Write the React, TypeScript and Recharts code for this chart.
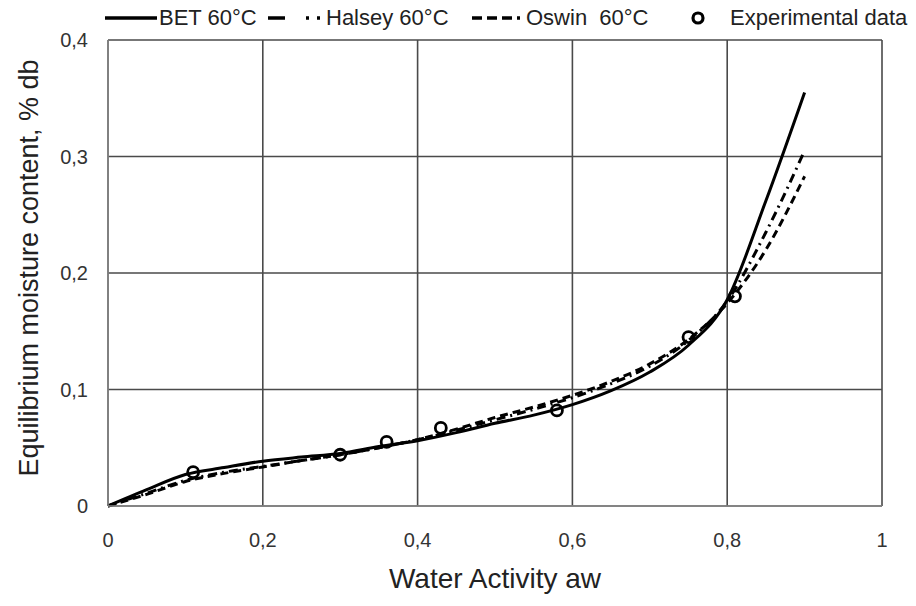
import React from "react"
import { CartesianGrid, ComposedChart, Label, Line, Scatter, XAxis, YAxis } from "recharts"

const aw = [0, 0.05, 0.1, 0.15, 0.2, 0.25, 0.3, 0.35, 0.4, 0.45, 0.5, 0.55, 0.6, 0.65, 0.7, 0.75, 0.8, 0.85, 0.9]
const bet = [0, 0.014, 0.027, 0.033, 0.0385, 0.042, 0.045, 0.051, 0.056, 0.063, 0.071, 0.078, 0.087, 0.099, 0.115, 0.138, 0.177, 0.262, 0.355]
const halsey = [0, 0.011, 0.022, 0.029, 0.034, 0.039, 0.044, 0.05, 0.057, 0.065, 0.074, 0.083, 0.093, 0.105, 0.12, 0.142, 0.176, 0.235, 0.305]
const oswin = [0, 0.01, 0.021, 0.028, 0.0335, 0.039, 0.044, 0.05, 0.057, 0.066, 0.076, 0.085, 0.095, 0.107, 0.122, 0.143, 0.174, 0.22, 0.283]

const expAw = [0.11, 0.3, 0.36, 0.43, 0.58, 0.75, 0.81]
const expMoisture = [0.029, 0.044, 0.055, 0.067, 0.082, 0.145, 0.18]

const xTicks = [0, 0.2, 0.4, 0.6, 0.8, 1]
const yTicks = [0, 0.1, 0.2, 0.3, 0.4]

const curves = aw.map((x, i) => ({ x, bet: bet[i], halsey: halsey[i], oswin: oswin[i] }))
const experimental = expAw.map((x, i) => ({ x, y: expMoisture[i] }))

const FONT = "'Liberation Sans', Arial, sans-serif"
const fmt = (v: number) => String(v).replace(".", ",")

const OpenCircle = (props: any) => (
  <circle cx={props.cx} cy={props.cy} r={5.5} fill="none" stroke="#000" strokeWidth={2.8} />
)

function LegendBar() {
  const item = { display: "flex", alignItems: "center", position: "absolute" as const, top: 5 }
  const txt = { fontSize: 22, color: "#222", whiteSpace: "pre" as const }
  return (
    <div style={{ fontFamily: FONT }}>
      <div style={{ ...item, left: 105 }}>
        <svg width={54} height={20}><line x1={0} y1={10} x2={52} y2={10} stroke="#000" strokeWidth={3.5} /></svg>
        <span style={txt}>BET 60°C</span>
      </div>
      <div style={{ ...item, left: 268 }}>
        <svg width={58} height={20}><line x1={0} y1={10} x2={56} y2={10} stroke="#000" strokeWidth={3.5} strokeDasharray="17 21 3 8 3 8" /></svg>
        <span style={txt}>Halsey 60°C</span>
      </div>
      <div style={{ ...item, left: 472 }}>
        <svg width={54} height={20}><line x1={0} y1={10} x2={48} y2={10} stroke="#000" strokeWidth={3.5} strokeDasharray="10 5" /></svg>
        <span style={txt}>Oswin  60°C</span>
      </div>
      <div style={{ ...item, left: 690 }}>
        <svg width={40} height={20}><circle cx={8} cy={10} r={5} fill="none" stroke="#000" strokeWidth={3.2} /></svg>
        <span style={txt}>Experimental data</span>
      </div>
    </div>
  )
}

const YTitle = () => (
  <text
    transform="translate(38,268) rotate(-90)"
    textAnchor="middle"
    fontSize={27}
    fill="#222"
    fontFamily={FONT}
  >
    Equilibrium moisture content, % db
  </text>
)

export default function App() {
  return (
    <div style={{ position: "absolute", left: 0, top: 0, width: 916, height: 606, background: "#fff" }}>
      <LegendBar />
      <ComposedChart
        width={916}
        height={606}
        data={curves}
        margin={{ top: 40, right: 34, left: 0, bottom: 0 }}
        style={{ fontFamily: FONT }}
      >
        <CartesianGrid stroke="#4a4a4a" strokeWidth={1.6} />
        <XAxis
          type="number"
          dataKey="x"
          domain={[0, 1]}
          ticks={xTicks}
          tickFormatter={fmt}
          height={100}
          tickLine={false}
          tickMargin={21}
          axisLine={{ stroke: "#888", strokeWidth: 1.5 }}
          tick={{ fill: "#333", fontSize: 20 }}
        >
          <Label value="Water Activity aw" position="insideBottom" offset={18} style={{ fontSize: 28, fill: "#222" }} />
        </XAxis>
        <YAxis
          type="number"
          domain={[0, 0.4]}
          ticks={yTicks}
          tickFormatter={fmt}
          width={108}
          tickLine={false}
          tickMargin={14}
          axisLine={{ stroke: "#888", strokeWidth: 1.5 }}
          tick={{ fill: "#333", fontSize: 20 }}
        >
          <Label content={<YTitle />} />
        </YAxis>
        <Line type="monotone" dataKey="bet" stroke="#000" strokeWidth={3} dot={false} isAnimationActive={false} />
        <Line type="monotone" dataKey="halsey" stroke="#000" strokeWidth={3} strokeDasharray="9 5 2 5" dot={false} isAnimationActive={false} />
        <Line type="monotone" dataKey="oswin" stroke="#000" strokeWidth={3} strokeDasharray="8 5" dot={false} isAnimationActive={false} />
        <Scatter data={experimental} dataKey="y" shape={OpenCircle} isAnimationActive={false} />
      </ComposedChart>
    </div>
  )
}
